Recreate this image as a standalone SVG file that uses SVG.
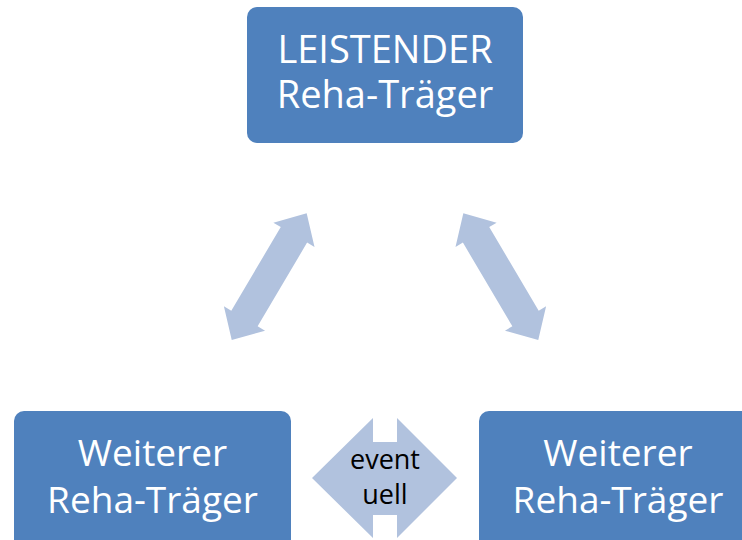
<svg xmlns="http://www.w3.org/2000/svg" width="742" height="540" viewBox="0 0 742 540">
  <style>
    .box { fill: #4F81BD; }
    .arrow { fill: #B1C2DE; }
    .lbl { font-family: "Open Sans", "Noto Sans", "Liberation Sans", sans-serif; fill: #FFFFFF; text-anchor: middle; }
    .small { font-family: "Open Sans", "Noto Sans", "Liberation Sans", sans-serif; fill: #000000; text-anchor: middle; font-size: 27px; }
  </style>
  <defs>
    <path id="dbl" d="M73.6,0 L48.6,-23.9 L48.6,-15.3 L-48.6,-15.3 L-48.6,-23.9 L-73.6,0 L-48.6,23.9 L-48.6,15.3 L48.6,15.3 L48.6,23.9 Z"/>
  </defs>
  <rect x="0" y="0" width="742" height="540" fill="#FFFFFF"/>

  <g id="connectors">
    <use href="#dbl" class="arrow" transform="translate(269.2,276.65) rotate(-59.4)"/>
    <use href="#dbl" class="arrow" transform="translate(500.8,276.65) rotate(59.4)"/>
    <g id="eventuell">
      <polygon class="arrow" points="312,478 373,418 373,442 397,442 397,418 457,478 397,538 397,515 373,515 373,538"/>
      <text class="small" x="385" y="469">event</text>
      <text class="small" x="385" y="504">uell</text>
    </g>
  </g>

  <g id="leistender">
    <rect class="box" x="247" y="7" width="276" height="136" rx="10" ry="10"/>
    <text class="lbl" x="385" y="63" font-size="38">LEISTENDER</text>
    <text class="lbl" x="385" y="108" font-size="38">Reha-Träger</text>
  </g>

  <g id="weiterer-links">
    <rect class="box" x="14" y="411" width="277" height="150" rx="10" ry="10"/>
    <text class="lbl" x="152.5" y="466" font-size="37">Weiterer</text>
    <text class="lbl" x="152.5" y="513" font-size="37">Reha-Träger</text>
  </g>

  <g id="weiterer-rechts">
    <rect class="box" x="479" y="411" width="278" height="150" rx="10" ry="10"/>
    <text class="lbl" x="618" y="466" font-size="37">Weiterer</text>
    <text class="lbl" x="618" y="513" font-size="37">Reha-Träger</text>
  </g>
</svg>
